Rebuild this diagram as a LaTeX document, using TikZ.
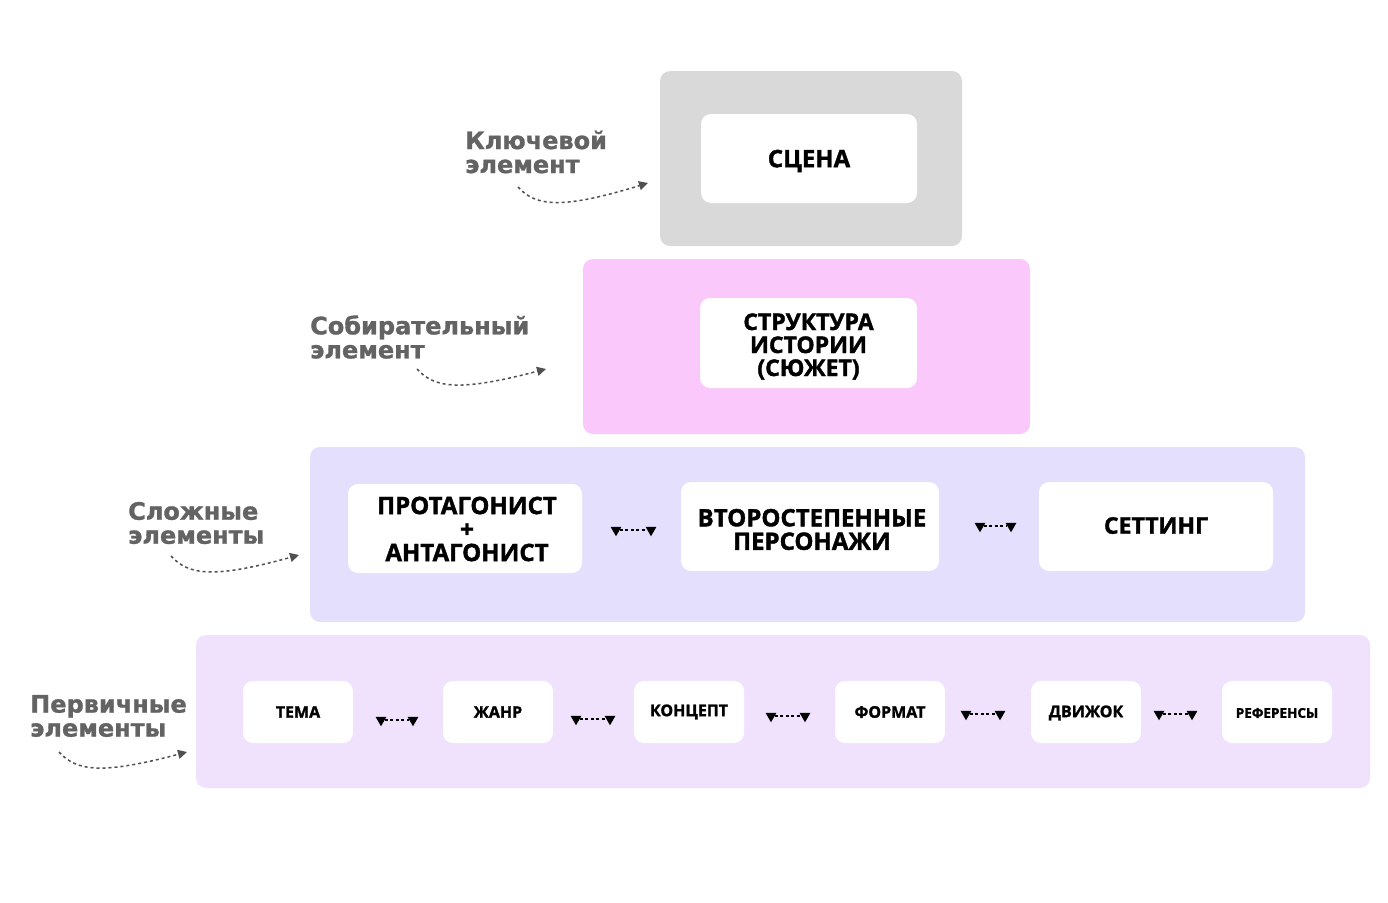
\documentclass[tikz,border=0pt]{standalone}
\usepackage{fontspec}
\setmainfont{Open Sans}[BoldFeatures={FakeBold=1.6}]
\newfontfamily\labfont{DejaVu Sans}[BoldFeatures={FakeBold=1.2}]
\usetikzlibrary{arrows.meta,calc,shapes.geometric}
\definecolor{lay1}{HTML}{D9D9D9}
\definecolor{lay2}{HTML}{FBC8FB}
\definecolor{lay3}{HTML}{E3DFFC}
\definecolor{lay4}{HTML}{F0E1FC}
\definecolor{labgray}{HTML}{636363}
\definecolor{arrgray}{HTML}{505050}
\tikzset{
  layer/.style={rounded corners=10pt, inner sep=0pt, draw=none},
  card/.style={fill=white, rounded corners=10pt, inner sep=0pt},
  ctext/.style={inner sep=0pt, align=center},
  bigtxt/.style={font=\bfseries\fontsize{24}{23.5}\selectfont},
  midtxt/.style={font=\bfseries\fontsize{23}{23}\selectfont},
  smalltxt/.style={font=\bfseries\fontsize{16}{16}\selectfont},
  lab/.style={anchor=west, align=left, inner sep=0pt, text=labgray, font=\labfont\bfseries\fontsize{24}{24}\selectfont},
  curarr/.style={draw=arrgray, line width=1.5pt, dash pattern=on 3pt off 3pt, -{Triangle[width=9pt,length=9pt]}, arrgray},
  tri/.style={regular polygon, regular polygon sides=3, shape border rotate=180, fill=black, inner sep=0pt, minimum size=12.5pt},
  dline/.style={draw=black, line width=1.7pt, dash pattern=on 3pt off 2.5pt}
}
\begin{document}
\begin{tikzpicture}[x=1pt,y=-1pt]
\useasboundingbox (0,0) rectangle (1388,902);
\fill[white] (0,0) rectangle (1388,902);
% layers
\node[layer, fill=lay1, minimum width=302, minimum height=175] (L1) at (811,158.5) {};
\node[layer, fill=lay2, minimum width=447, minimum height=175] (L2) at (806.5,346.5) {};
\node[layer, fill=lay3, minimum width=995, minimum height=175] (L3) at (807.5,534.5) {};
\node[layer, fill=lay4, minimum width=1174, minimum height=153] (L4) at (783,711.5) {};
% cards
\node[card, minimum width=216, minimum height=89] (scena) at (809,158.5) {};
\node[ctext, bigtxt] (scena-t) at ($(scena)+(0,2.5)$) {СЦЕНА};
\node[card, minimum width=217, minimum height=90] (struct) at (808.5,343) {};
\node[ctext, midtxt] (struct-t) at ($(struct)+(0,3.5)$) {СТРУКТУРА\\ИСТОРИИ\\(СЮЖЕТ)};
\node[card, minimum width=234, minimum height=89] (prot) at (465,528.5) {};
\node[ctext, bigtxt] (prot-t) at ($(prot)+(2,0.5)$) {ПРОТАГОНИСТ\\+\\АНТАГОНИСТ};
\node[card, minimum width=258, minimum height=89] (vtor) at (810,526.5) {};
\node[ctext, bigtxt] (vtor-t) at ($(vtor)+(2,3)$) {ВТОРОСТЕПЕННЫЕ\\ПЕРСОНАЖИ};
\node[card, minimum width=234, minimum height=89] (sett) at (1156,526.5) {};
\node[ctext, midtxt] (sett-t) at ($(sett)+(0,-1)$) {СЕТТИНГ};
\node[card, minimum width=110, minimum height=62] (tema) at (298,712) {};
\node[ctext, smalltxt] (tema-t) at (tema) {ТЕМА};
\node[card, minimum width=110, minimum height=62] (zhanr) at (498,712) {};
\node[ctext, smalltxt] (zhanr-t) at (zhanr) {ЖАНР};
\node[card, minimum width=110, minimum height=62] (konc) at (689,712) {};
\node[ctext, smalltxt] (konc-t) at (konc) {КОНЦЕПТ};
\node[card, minimum width=110, minimum height=62] (form) at (890,712) {};
\node[ctext, smalltxt] (form-t) at (form) {ФОРМАТ};
\node[card, minimum width=110, minimum height=62] (dvizh) at (1086,712) {};
\node[ctext, smalltxt] (dvizh-t) at ($(dvizh)+(0,1)$) {ДВИЖОК};
\node[card, minimum width=110, minimum height=62] (refs) at (1277,712) {};
\node[ctext, font=\bfseries\fontsize{13.5}{13.5}\selectfont] (refs-t) at ($(refs)+(0,1)$) {РЕФЕРЕНСЫ};
% small double arrows
\foreach \i/\xa/\xb/\yy in {1/616/651/530, 2/980/1011/526, 3/381/413/720, 4/576/610/719, 5/771/805/716, 6/966/1000/714, 7/1159/1192/714}{
  \node[tri] (ta\i) at (\xa,\yy) {};
  \node[tri] (tb\i) at (\xb,\yy) {};
  \draw[dline] (ta\i) -- (tb\i);
}
% labels
\node[lab] (lab1) at (465,152) {Ключевой\\элемент};
\node[lab] (lab2) at (310,337) {Собирательный\\элемент};
\node[lab] (lab3) at (128,523) {Сложные\\элементы};
\node[lab] (lab4) at (30,716) {Первичные\\элементы};
% curved arrows
\coordinate (c1s) at (518,187); \coordinate (c1e) at (648,183);
\coordinate (c2s) at (417,369); \coordinate (c2e) at (546,369);
\coordinate (c3s) at (171,556); \coordinate (c3e) at (299,555);
\coordinate (c4s) at (59,752);  \coordinate (c4e) at (187,752);
\foreach \k in {1,2,3,4}{
  \draw[curarr] (c\k s) .. controls ($(c\k s)+(18,20)$) and ($(c\k s)+(45,22)$) .. (c\k e);
}
\end{tikzpicture}
\end{document}
